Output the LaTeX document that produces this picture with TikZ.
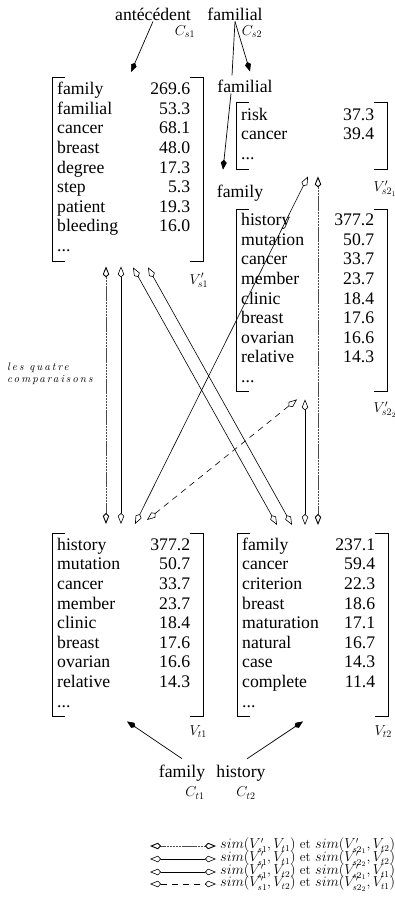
\documentclass[tikz,border=0pt]{standalone}
\usepackage{fontspec}
\newfontfamily\timesf{Liberation Serif}
\newfontfamily\espace[LetterSpace=18]{Latin Modern Roman}
\usetikzlibrary{arrows.meta}

\tikzset{
  vecteur/.style={anchor=north west, inner sep=0pt, minimum height=#1,
    font=\timesf\fontsize{17.7}{19.6}\selectfont},
  mot/.style={font=\timesf\fontsize{17.7}{20}\selectfont, inner sep=1pt},
  etiq/.style={font=\fontsize{14}{16}\selectfont, inner sep=0pt},
  legende/.style={font=\fontsize{13.3}{15}\selectfont, inner sep=0pt, anchor=west},
  fleche/.style={-{Kite[length=10pt,width=6pt,inset=3pt]}, line width=0.7pt},
  compar/.style={{Kite[open,color=black,length=11pt,width=6.5pt,inset=3pt]}-{Kite[open,color=black,length=11pt,width=6.5pt,inset=3pt]}, line width=0.6pt},
  grise/.style={compar, draw=black!70, line width=0.9pt, dash pattern=on 2.5pt off 0.6pt},
  tirets/.style={compar, dash pattern=on 6pt off 5pt},
}

\newcommand\colonne[1]{\begin{tabular*}{151pt}{@{\hspace{5pt}}l@{\extracolsep{\fill}}r@{\extracolsep{0pt}\hspace{13pt}}}#1\end{tabular*}}
\newcommand\crochets[1]{%
  \draw[line width=0.6pt] ([xshift=13pt]#1.north west) -- (#1.north west) -- (#1.south west) -- ([xshift=13pt]#1.south west);
  \draw[line width=0.6pt] ([xshift=-13pt]#1.north east) -- (#1.north east) -- (#1.south east) -- ([xshift=-13pt]#1.south east);}

\begin{document}
\begin{tikzpicture}[x=1pt, y=-1pt]
\fill[white] (0,0) rectangle (395,912);
\useasboundingbox (0,0) rectangle (395,912);

% les concepts
\node[mot] (antec) at (153,14) {antécédent};
\node[etiq] (cs1) at (185,32) {$C_{s1}$};
\node[mot] (famA) at (235,14) {familial};
\node[etiq] (cs2) at (252,32) {$C_{s2}$};
\node[mot] (famB) at (245,86) {familial};
\node[mot] (famC) at (240,193) {family};

% les vecteurs
\node[vecteur=184pt] (vs1) at (52,77) {\colonne{family & 269.6\\ familial & 53.3\\ cancer & 68.1\\ breast & 48.0\\ degree & 17.3\\ step & 5.3\\ patient & 19.3\\ bleeding & 16.0\\ ... &}};
\node[vecteur=67pt] (vs21) at (236,102) {\colonne{risk & 37.3\\ cancer & 39.4\\ ... &}};
\node[vecteur=182pt] (vs22) at (236,209) {\colonne{history & 377.2\\ mutation & 50.7\\ cancer & 33.7\\ member & 23.7\\ clinic & 18.4\\ breast & 17.6\\ ovarian & 16.6\\ relative & 14.3\\ ... &}};
\node[vecteur=183pt] (vt1) at (52,533) {\colonne{history & 377.2\\ mutation & 50.7\\ cancer & 33.7\\ member & 23.7\\ clinic & 18.4\\ breast & 17.6\\ ovarian & 16.6\\ relative & 14.3\\ ... &}};
\node[vecteur=183pt] (vt2) at (237,533) {\colonne{family & 237.1\\ cancer & 59.4\\ criterion & 22.3\\ breast & 18.6\\ maturation & 17.1\\ natural & 16.7\\ case & 14.3\\ complete & 11.4\\ ... &}};
\crochets{vs1}
\crochets{vs21}
\crochets{vs22}
\crochets{vt1}
\crochets{vt2}

\node[etiq, anchor=west] (lvs1) at ([xshift=-14pt,yshift=-19pt]vs1.south east) {$V'_{s1}$};
\node[etiq, anchor=west] (lvs21) at ([xshift=-14pt,yshift=-19pt]vs21.south east) {$V'_{s2_1}$};
\node[etiq, anchor=west] (lvs22) at ([xshift=-14pt,yshift=-18pt]vs22.south east) {$V'_{s2_2}$};
\node[etiq, anchor=west] (lvt1) at ([xshift=-14pt,yshift=-15pt]vt1.south east) {$V_{t1}$};
\node[etiq, anchor=west] (lvt2) at ([xshift=-14pt,yshift=-15pt]vt2.south east) {$V_{t2}$};

\draw[fleche] (antec.south) -- ([xshift=79pt,yshift=5pt]vs1.north west);
\draw[fleche] (famA.south) -- ([xshift=5pt,yshift=7pt]famB.north);
\draw[line width=0.7pt] (famA.south) -- ([xshift=-13pt,yshift=3pt]famB.north);
\draw[fleche] ([xshift=-14pt]famB.south) -- ([xshift=-17pt,yshift=14pt]famC.north);

% les comparaisons
\node[anchor=west, align=left, inner sep=0pt,
  font=\espace\itshape\fontsize{11}{12}\selectfont] (quatre) at (7,374) {les quatre\\comparaisons};

\draw[grise] ([xshift=54pt,yshift=-5pt]vs1.south west) -- ([xshift=54pt,yshift=9pt]vt1.north west);
\draw[compar] ([xshift=69pt,yshift=-5pt]vs1.south west) -- ([xshift=69pt,yshift=9pt]vt1.north west);
\draw[compar] ([xshift=81pt,yshift=-6pt]vs1.south west) -- ([xshift=40pt,yshift=8pt]vt2.north west);
\draw[compar] ([xshift=96pt,yshift=-6pt]vs1.south west) -- ([xshift=55pt,yshift=8pt]vt2.north west);
\draw[compar] ([xshift=83pt,yshift=9pt]vt1.north west) -- ([xshift=72pt,yshift=-7pt]vs21.south west);
\draw[tirets] ([xshift=95pt,yshift=13pt]vt1.north west) -- ([xshift=61pt,yshift=-8pt]vs22.south west);
\draw[compar] ([xshift=69pt,yshift=-8pt]vs22.south west) -- ([xshift=68pt,yshift=8pt]vt2.north west);
\draw[grise] ([xshift=82pt,yshift=-7pt]vs21.south west) -- ([xshift=81pt,yshift=8pt]vt2.north west);

% les termes cibles
\node[mot] (famD) at (182,773) {family};
\node[mot] (hist) at (241,773) {history};
\node[etiq] (ct1) at (195,793) {$C_{t1}$};
\node[etiq] (ct2) at (246,793) {$C_{t2}$};
\draw[fleche] ([yshift=5pt]famD.north) -- ([xshift=75pt,yshift=-5pt]vt1.south west);
\draw[fleche] ([xshift=6pt,yshift=5pt]hist.north) -- ([xshift=66pt,yshift=-5pt]vt2.south west);

% legende
\node[legende] (leg1) at (220,846) {$sim(V'_{s1},V_{t1})$ et $sim(V'_{s2_1},V_{t2})$};
\node[legende] (leg2) at (220,859) {$sim(V'_{s1},V_{t1})$ et $sim(V'_{s2_2},V_{t2})$};
\node[legende] (leg3) at (220,872) {$sim(V'_{s1},V_{t2})$ et $sim(V'_{s2_1},V_{t1})$};
\node[legende] (leg4) at (220,884) {$sim(V'_{s1},V_{t2})$ et $sim(V'_{s2_2},V_{t1})$};
\draw[grise] ([xshift=-70pt]leg1.west) -- ([xshift=-4pt]leg1.west);
\draw[compar] ([xshift=-70pt]leg2.west) -- ([xshift=-4pt]leg2.west);
\draw[compar] ([xshift=-70pt]leg3.west) -- ([xshift=-4pt]leg3.west);
\draw[tirets] ([xshift=-70pt]leg4.west) -- ([xshift=-4pt]leg4.west);
\end{tikzpicture}
\end{document}
